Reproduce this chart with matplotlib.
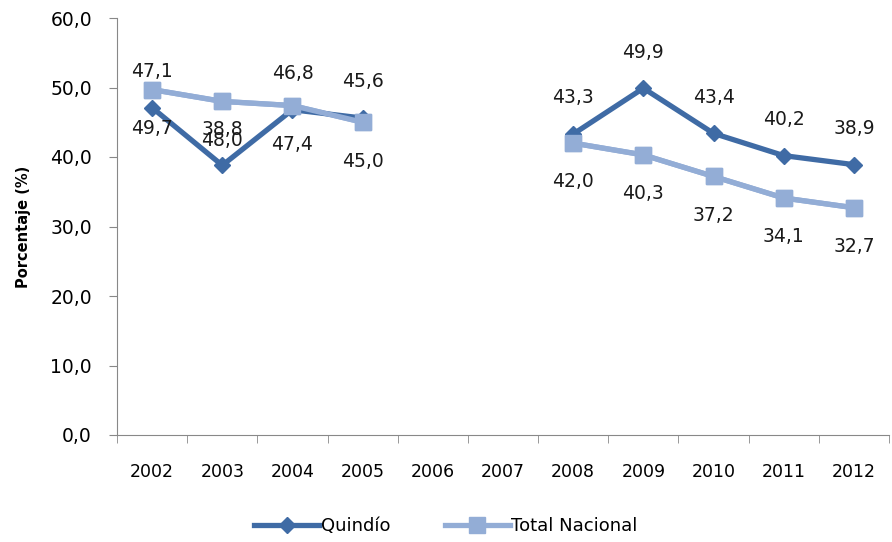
import numpy as np
import matplotlib.pyplot as plt

years = ['2002', '2003', '2004', '2005', '2006', '2007', '2008', '2009', '2010', '2011', '2012']
quindio = [47.1, 38.8, 46.8, 45.6, np.nan, np.nan, 43.3, 49.9, 43.4, 40.2, 38.9]
nacional = [49.7, 48.0, 47.4, 45.0, np.nan, np.nan, 42.0, 40.3, 37.2, 34.1, 32.7]

c_q = '#3F6BA5'
c_n = '#93ADD6'

plt.rcParams['font.family'] = ['DejaVu Sans']

fig = plt.figure(figsize=(8.92, 5.42), dpi=100)
ax = fig.add_axes([117 / 892, 1 - 435 / 542, (889 - 117) / 892, (435 - 18) / 542])

x = np.arange(len(years))
ax.plot(x, nacional, color=c_n, lw=3.8, marker='s', ms=11, label='Total Nacional', zorder=2)
ax.plot(x, quindio, color=c_q, lw=3.8, marker='D', ms=8, label='Quindío', zorder=3)
# the light line lies over the dark one in the original
ax.plot(x, nacional, color=c_n, lw=3.8, marker='s', ms=11, zorder=4)

fmt = lambda v: f'{v:.1f}'.replace('.', ',')
for i in range(len(years)):
    if not np.isnan(quindio[i]):
        ax.annotate(fmt(quindio[i]), (x[i], quindio[i]), xytext=(0, 26), textcoords='offset points',
                    ha='center', va='center', fontsize=13.5, color='#1a1a1a', zorder=5)
    if not np.isnan(nacional[i]):
        ax.annotate(fmt(nacional[i]), (x[i], nacional[i]), xytext=(0, -28), textcoords='offset points',
                    ha='center', va='center', fontsize=13.5, color='#1a1a1a', zorder=5)

ax.set_xlim(-0.5, len(years) - 0.5)
ax.set_ylim(0, 60)
ax.set_yticks(np.arange(0, 61, 10))
ax.set_yticklabels([fmt(v) for v in np.arange(0, 61, 10)], fontsize=13.5)
ax.set_xticks(x)
ax.set_xticklabels(years, fontsize=12.5)
ax.set_xticks(np.arange(-0.5, len(years)), minor=True)
ax.tick_params(axis='x', which='major', length=0, pad=20)
ax.tick_params(axis='x', which='minor', length=6, color='#888888')
ax.tick_params(axis='y', length=6, color='#888888', pad=12)
ax.set_ylabel('Porcentaje (%)', fontsize=10.5, fontweight='bold', labelpad=14)

for s in ['top', 'right']:
    ax.spines[s].set_visible(False)
for s in ['left', 'bottom']:
    ax.spines[s].set_color('#888888')

h, l = ax.get_legend_handles_labels()
fig.legend(h[::-1], l[::-1], loc='center', bbox_to_anchor=(446 / 892, 1 - 526 / 542), ncol=2,
           frameon=False, fontsize=13, handlelength=3.6, columnspacing=3, handletextpad=0.1)

fig.savefig('out.png', dpi=100)
